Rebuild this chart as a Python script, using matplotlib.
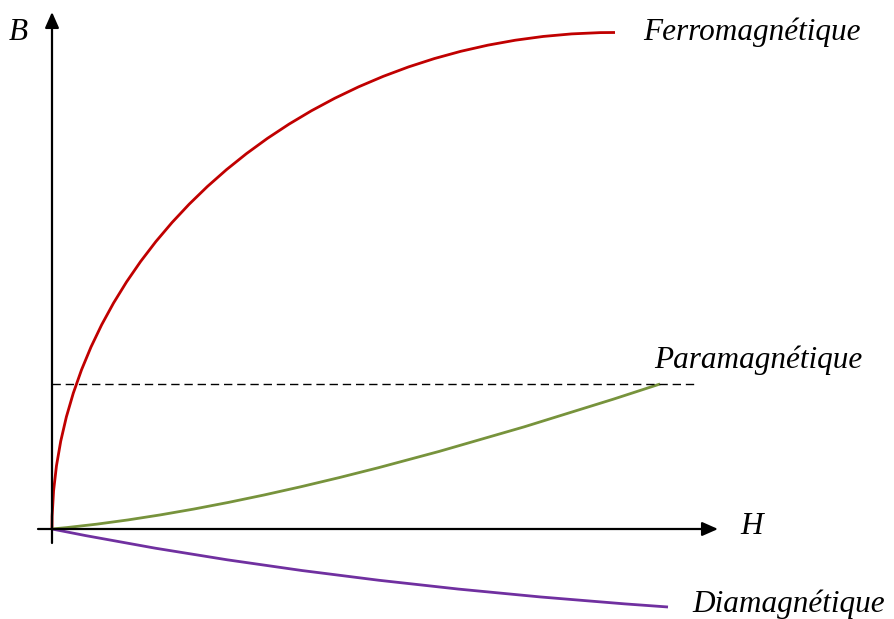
import numpy as np
import matplotlib.pyplot as plt
from matplotlib.path import Path
from matplotlib.patches import PathPatch

# curves read off the picture as Bezier anchor / control points (H, B)
# ferromagnetic: quarter-ellipse like rise to saturation
ferro_h = [0.0, 0.0, 2.52, 5.63]
ferro_b = [0.0, 2.74, 4.965, 4.965]
# paramagnetic: slow convex rise
para_h = [0.0, 2.32, 6.08]
para_b = [0.0, 0.21, 1.45]
# diamagnetic: small negative response
dia_h = [0.0, 2.68, 6.16]
dia_b = [0.0, -0.54, -0.78]

sat_level = 1.45
sat_end = 6.43

labels = ["Ferromagnétique", "Paramagnétique", "Diamagnétique"]

plt.rcParams['font.family'] = ['Liberation Serif', 'DejaVu Serif']

fig = plt.figure(figsize=(8.94, 6.19), dpi=100)
ax = fig.add_axes([0, 0, 1, 1])
ax.set_xlim(-0.52, 8.42)
ax.set_ylim(-0.90, 5.29)
ax.axis('off')

# axes with arrows
arrow = dict(arrowstyle='-|>,head_length=0.95,head_width=0.42',
             color='black', lw=1.6, shrinkA=0, shrinkB=0)
ax.annotate('', xy=(6.66, 0), xytext=(-0.14, 0), arrowprops=arrow)
ax.annotate('', xy=(0, 5.17), xytext=(0, -0.14), arrowprops=arrow)

ax.plot([0, sat_end], [sat_level, sat_level], color='black', lw=1.0,
        linestyle=(0, (6, 3.5)))


def curve(hs, bs, color):
    verts = list(zip(hs, bs))
    code = Path.CURVE4 if len(verts) == 4 else Path.CURVE3
    codes = [Path.MOVETO] + [code] * (len(verts) - 1)
    ax.add_patch(PathPatch(Path(verts, codes), facecolor='none',
                           edgecolor=color, lw=2.0, capstyle='butt'))


curve(ferro_h, ferro_b, '#C00000')
curve(para_h, para_b, '#77933C')
curve(dia_h, dia_b, '#7030A0')

style = dict(fontsize=22.5, style='italic', va='center', ha='left')
ax.text(5.91, 4.97, labels[0], **style)
ax.text(6.02, 1.69, labels[1], **style)
ax.text(6.40, -0.75, labels[2], **style)
ax.text(6.88, 0.03, 'H', **style)
ax.text(-0.43, 4.97, 'B', **style)

fig.savefig('out.png', dpi=100)
